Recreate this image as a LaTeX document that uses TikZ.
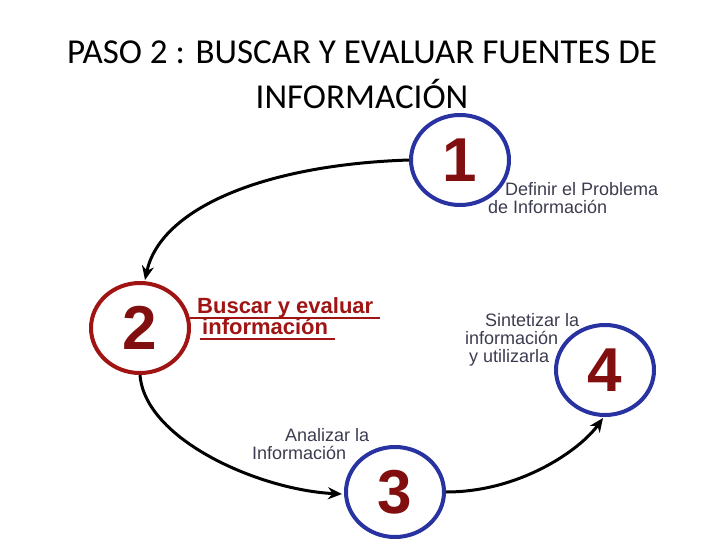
\documentclass[tikz,border=0pt]{standalone}
\usepackage{fontspec}
\setmainfont{Liberation Sans}
\newfontfamily\titlefont{Carlito}
\usetikzlibrary{arrows.meta,shapes.geometric}
\definecolor{cblue}{RGB}{40,50,160}
\definecolor{cred}{RGB}{160,20,20}
\definecolor{numred}{RGB}{130,15,15}
\definecolor{lbl}{RGB}{60,60,80}
\begin{document}
\begin{tikzpicture}[x=1pt,y=-1pt,
  stepcirc/.style={ellipse,minimum width=98pt,minimum height=90pt,line width=4pt,fill=white,inner sep=0pt},
  num/.style={font=\bfseries\fontsize{62}{62}\selectfont,text=numred},
  lab/.style={font=\fontsize{18}{18}\selectfont,text=lbl,align=left,inner sep=0pt},
  arr/.style={line width=3pt,-{Stealth[length=14pt,width=12pt]}}]
\useasboundingbox (0,0) rectangle (720,540);
\node[font=\titlefont\fontsize{35}{45}\selectfont,align=center] (title) at (362,75) {PASO 2 : BUSCAR Y EVALUAR FUENTES DE\\INFORMACIÓN};
\node[stepcirc,draw=cblue] (c1) at (460,160) {};
\node[stepcirc,draw=cred] (c2) at (140,328) {};
\node[stepcirc,draw=cblue] (c3) at (395,492) {};
\node[stepcirc,draw=cblue] (c4) at (605,370) {};
\node[num] at (c1) {1};
\node[num] at (c2) {2};
\node[num] at (c3) {3};
\node[num] at (c4) {4};
\draw[arr] (c1.west) .. controls (260,165) and (160,210) .. (145,280);
\draw[arr] (c2.south) .. controls (145,440) and (260,490) .. (342,494);
\draw[arr] (c3.east) .. controls (520,492) and (580,450) .. (603,418);
\node[lab,anchor=north west] (t1) at (488,182) {\hspace*{17pt}Definir el Problema\\de Información};
\node[lab,anchor=north west,font=\bfseries\fontsize{22}{21}\selectfont,text=cred] (t2) at (197,297) {Buscar y evaluar\\\hspace*{5pt}información};
\draw[cred,line width=1.2pt] (190,318) -- (380,318);
\draw[cred,line width=1.2pt] (200,339) -- (335,339);
\node[lab,anchor=north west] (t4) at (465,313) {\hspace*{20pt}Sintetizar la\\información\\\hspace*{4pt}y utilizarla};
\node[lab,anchor=north west] (t3) at (252,428) {\hspace*{33pt}Analizar la\\Información};
\end{tikzpicture}
\end{document}
